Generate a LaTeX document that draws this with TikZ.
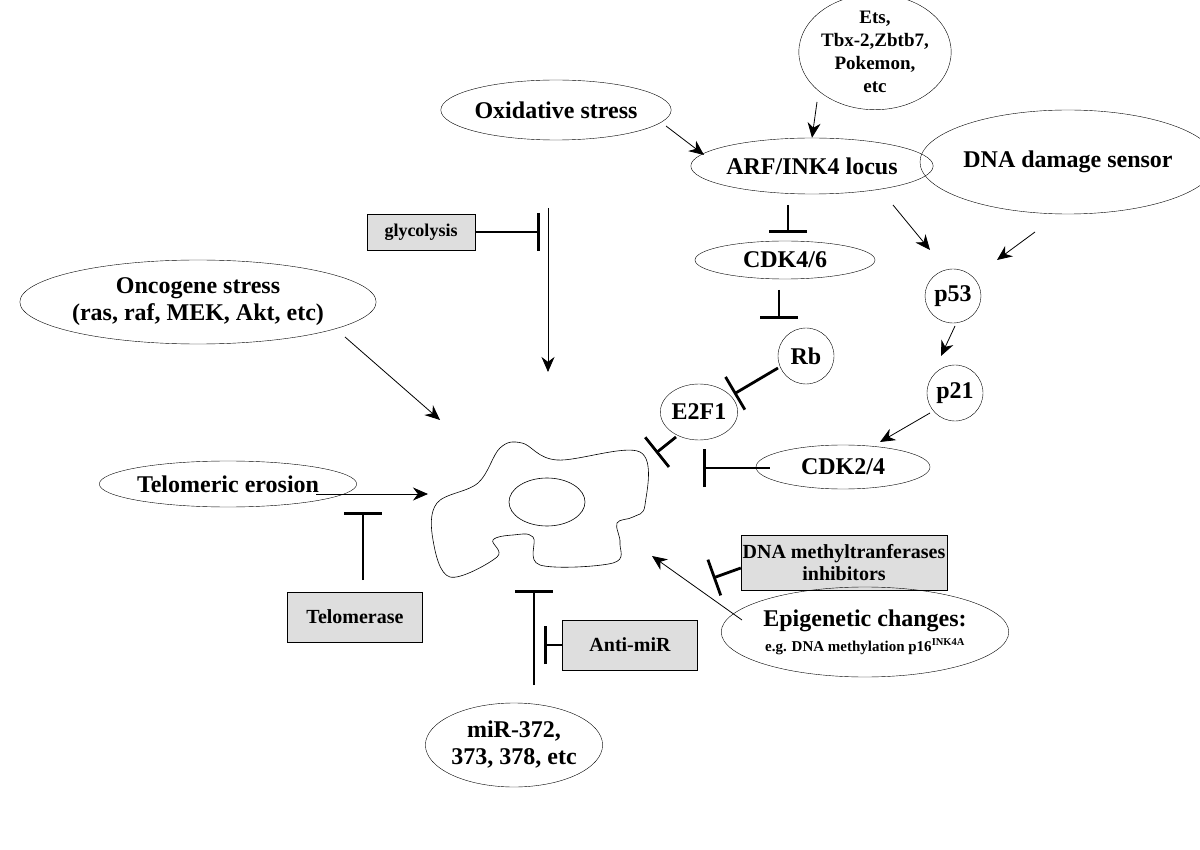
\documentclass[tikz,border=0pt]{standalone}
\usepackage{fontspec}
\setmainfont{Liberation Serif}
\usetikzlibrary{arrows.meta,shapes.geometric}
\tikzset{
  ell/.style={draw,ellipse,inner sep=0pt,align=center,font=\fontsize{24}{27}\selectfont\bfseries},
  box/.style={draw,fill=black!13,inner sep=0pt,align=center,font=\fontsize{20}{22}\selectfont\bfseries},
  act/.style={-{Stealth[length=15pt,width=13pt]},line width=0.8pt},
  inh/.style={-{Bar[width=38pt,line width=2.8pt]},line width=2.8pt},
}
\begin{document}
\begin{tikzpicture}[x=1pt,y=-1pt]
\useasboundingbox (0,0) rectangle (1200,850);
%%
  \node (ets) at (875,52) [ell,minimum width=130pt,minimum height=104pt,font=\fontsize{19}{23}\selectfont\bfseries] {Ets,\\Tbx-2,Zbtb7,\\Pokemon,\\etc};
  \node (ox) at (556,110) [ell,minimum width=174pt,minimum height=60pt] {Oxidative stress};
  \node (arf) at (812,166) [ell,minimum width=180pt,minimum height=56pt] {ARF/INK4 locus};
  \node (dna) at (1068,162) [ell,minimum width=216pt,minimum height=104pt] {DNA damage sensor};
  \node (gly) at (421,232) [box,minimum width=108pt,minimum height=36pt,font=\fontsize{18}{20}\selectfont\bfseries] {glycolysis};
  \node (cdk46) at (785,260) [ell,minimum width=180pt,minimum height=38pt] {CDK4/6};
  \node (p53) at (953,296) [ell,minimum width=56pt,minimum height=54pt] {p53};
  \node (onc) at (198,302) [ell,minimum width=310pt,minimum height=84pt] {Oncogene stress\\(ras, raf, MEK, Akt, etc)};
  \node (rb) at (806,356) [ell,minimum width=56pt,minimum height=56pt] {Rb};
  \node (p21) at (955,393) [ell,minimum width=56pt,minimum height=56pt] {p21};
  \node (e2f) at (699,412) [ell,minimum width=66pt,minimum height=56pt] {E2F1};
  \node (cdk24) at (843,467) [ell,minimum width=174pt,minimum height=44pt] {CDK2/4};
  \node (tel) at (228,484) [ell,minimum width=146pt,minimum height=46pt] {Telomeric erosion};
  \node (dnmt) at (844,563) [box,minimum width=206pt,minimum height=55pt] {DNA methyltranferases\\inhibitors};
  \node (telo) at (355,617) [box,minimum width=135pt,minimum height=50pt] {Telomerase};
  \node (anti) at (630,645) [box,minimum width=135pt,minimum height=50pt] {Anti-miR};
  \node (epi) at (865,632) [ell,minimum width=214pt,minimum height=90pt] {Epigenetic changes:\\[-2pt]{\fontsize{15}{17}\selectfont e.g. DNA methylation p16\textsuperscript{INK4A}}};
  \node (mir) at (514,745) [ell,minimum width=170pt,minimum height=84pt] {miR-372,\\373, 378, etc};
  % cell
  \draw[line width=0.6pt] plot[smooth cycle,tension=0.6] coordinates {(437,503) (478,483) (500,448) (522,443) (557,460) (640,452) (645,505) (633,517) (617,523) (620,543) (613,563) (540,565) (533,537) (513,535) (493,540) (497,557) (450,577) (433,540)};
  \node (nuc) at (547,502) [draw,ellipse,minimum width=76pt,minimum height=48pt,line width=0.6pt] {};
  % free ends
  \coordinate (top) at (548,208);
  \coordinate (cT) at (548,372);
  \coordinate (cOnc) at (440,420);
  \coordinate (cTel) at (428,494);
  \coordinate (cEpi) at (652,556);
  \coordinate (cE2f) at (656,453);
  \coordinate (cCdk) at (703,468);
  \coordinate (cTelo) at (363,512);
  \coordinate (cMir) at (534,590);
  \coordinate (mirTop) at (534,685);
  \coordinate (glyEnd) at (540,232);
  \coordinate (antiEnd) at (544,645);
  \coordinate (dnmtEnd) at (713,578);
  % activation
  \draw[act] (ets) ++(-58,50) -- (arf.north);
  \draw[act] (ox) ++(110,16) -- ++(38,29);
  \draw[act] (top) -- (cT);
  \draw[act] (arf) ++(81,39) -- ++(37,45);
  \draw[act] (dna) ++(-33,70) -- ++(-38,28);
  \draw[act] (onc) ++(147,35) -- (cOnc);
  \draw[act] (p53) ++(2,30) -- ++(-14,30);
  \draw[act] (p21) ++(-25,20) -- ++(-50,29);
  \draw[act] (tel) ++(88,10) -- (cTel);
  \draw[act] (epi) ++(-123,-12) -- (cEpi);
  % inhibition
  \draw[inh] (gly.east) -- (glyEnd);
  \draw[inh] (arf) ++(-24,39) -- ++(0,28);
  \draw[inh] (cdk46) ++(-6,30) -- ++(0,29);
  \draw[inh] (rb) ++(-28,12) -- ++(-44,26);
  \draw[inh] (e2f) ++(-23,25) -- (cE2f);
  \draw[inh] (cdk24.west) ++(14,1) -- (cCdk);
  \draw[inh] (telo) ++(8,-37) -- (cTelo);
  \draw[inh] (mirTop) -- (cMir);
  \draw[inh] (anti.west) -- (antiEnd);
  \draw[inh] (dnmt.west) ++(0,5) -- (dnmtEnd);
%
\end{tikzpicture}
\end{document}
